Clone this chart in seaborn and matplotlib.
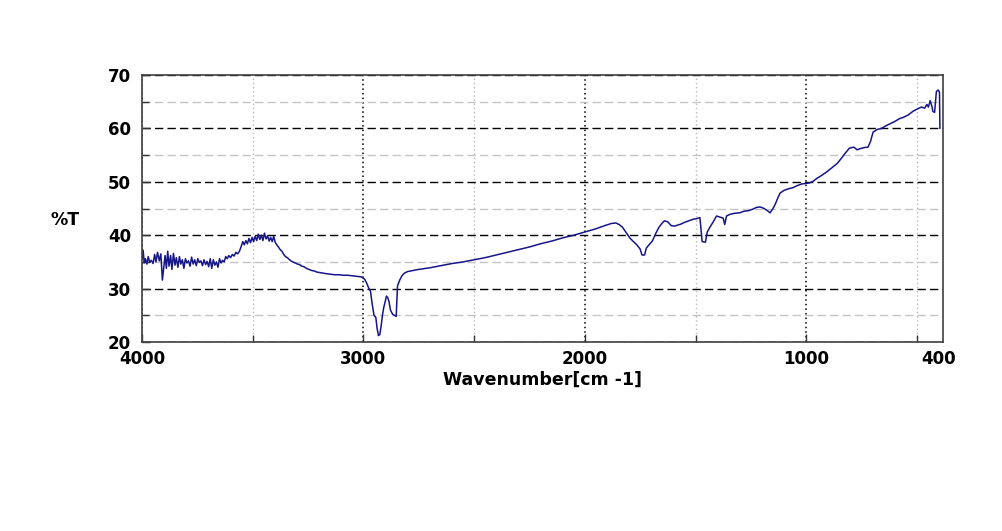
import matplotlib
matplotlib.use('Agg')
import matplotlib.pyplot as plt
import seaborn as sns
import pandas as pd
from matplotlib.ticker import FixedLocator

# FTIR spectrum (wavenumber in cm-1, %T)
wavenumber = [
    4000, 3995, 3990, 3985, 3978, 3972, 3965, 3958, 3950, 3943, 3937, 3930, 3922, 3915,
    3908, 3902, 3896, 3890, 3884, 3878, 3871, 3865, 3858, 3851, 3845, 3838, 3831, 3825,
    3818, 3811, 3804, 3797, 3790, 3783, 3776, 3769, 3762, 3755, 3748, 3741, 3734, 3727,
    3720, 3713, 3706, 3699, 3692, 3685, 3678, 3671, 3664, 3657, 3650, 3643, 3636, 3629,
    3622, 3615, 3608, 3600, 3592, 3584, 3576, 3568, 3560, 3552, 3545, 3538, 3531, 3524,
    3517, 3510, 3503, 3496, 3489, 3482, 3475, 3468, 3461, 3454, 3447, 3440, 3433, 3426,
    3419, 3412, 3405, 3398, 3391, 3384, 3376, 3368, 3360, 3352, 3344, 3336, 3328, 3318,
    3308, 3298, 3288, 3278, 3268, 3258, 3246, 3234, 3222, 3210, 3196, 3182, 3168, 3150,
    3130, 3110, 3090, 3070, 3050, 3030, 3010, 2995, 2985, 2975, 2968, 2960, 2952, 2944,
    2938, 2932, 2926, 2920, 2914, 2908, 2902, 2896, 2890, 2884, 2878, 2868, 2860, 2852,
    2846, 2836, 2826, 2815, 2800, 2775, 2750, 2700, 2650, 2600, 2550, 2500, 2450, 2400,
    2350, 2300, 2250, 2200, 2150, 2100, 2050, 2000, 1950, 1910, 1880, 1860, 1845, 1830,
    1810, 1795, 1780, 1765, 1750, 1742, 1730, 1722, 1710, 1695, 1680, 1665, 1650, 1640,
    1625, 1610, 1595, 1580, 1565, 1550, 1530, 1510, 1495, 1480, 1470, 1455, 1447, 1435,
    1420, 1405, 1390, 1375, 1368, 1360, 1345, 1325, 1300, 1280, 1260, 1240, 1225, 1208,
    1190, 1175, 1163, 1150, 1140, 1128, 1118, 1100, 1080, 1060, 1040, 1020, 1000, 985,
    969, 950, 930, 906, 885, 861, 845, 825, 805, 785, 770, 757, 740, 721,
    710, 698, 680, 660, 640, 620, 600, 580, 560, 540, 518, 500, 480, 465,
    455, 448, 440, 432, 428, 420, 412, 404, 398, 396,
]
transmittance = [
    35.5, 37.2, 34.8, 35.6, 34.6, 36.0, 34.9, 35.3, 34.7, 36.4, 35.0, 36.8, 35.2, 36.5,
    31.6, 34.0, 36.2, 33.8, 37.0, 34.2, 36.2, 33.6, 36.6, 34.4, 35.8, 34.0, 36.0, 34.6,
    35.4, 33.8, 35.6, 34.8, 35.2, 34.2, 35.9, 34.6, 35.4, 34.3, 35.6, 34.9, 35.2, 34.3,
    35.4, 34.5, 35.1, 34.1, 35.6, 33.8, 35.4, 34.4, 35.0, 34.0, 35.6, 34.8, 35.3, 35.0,
    36.0, 35.6, 36.2, 35.8, 36.4, 36.1, 36.8, 36.5, 37.0, 37.9, 38.8, 38.2, 39.0, 38.4,
    39.4, 38.6, 39.6, 38.8, 39.8, 39.0, 40.2, 39.2, 40.0, 39.0, 40.4, 39.3, 39.9, 38.9,
    39.6, 38.8, 39.8, 38.6, 38.2, 37.8, 37.3, 37.0, 36.4, 36.0, 35.8, 35.5, 35.2, 35.0,
    34.8, 34.6, 34.5, 34.2, 34.1, 33.8, 33.6, 33.4, 33.3, 33.1, 33.0, 32.9, 32.8, 32.7,
    32.6, 32.6, 32.5, 32.5, 32.4, 32.3, 32.2, 31.8, 31.0, 30.0, 29.5, 27.0, 25.0, 24.6,
    22.5, 21.2, 21.4, 23.0, 25.0, 26.5, 27.5, 28.6, 28.3, 27.5, 26.0, 25.2, 25.0, 24.8,
    30.5, 31.6, 32.4, 32.9, 33.2, 33.4, 33.6, 33.9, 34.3, 34.7, 35.0, 35.4, 35.8, 36.3,
    36.8, 37.3, 37.8, 38.4, 38.9, 39.5, 40.0, 40.6, 41.2, 41.8, 42.2, 42.3, 42.0, 41.5,
    40.3, 39.4, 38.8, 38.2, 37.4, 36.3, 36.3, 37.6, 38.2, 38.9, 40.3, 41.5, 42.3, 42.7,
    42.5, 41.8, 41.7, 41.9, 42.1, 42.4, 42.7, 43.0, 43.1, 43.3, 38.8, 38.7, 40.6, 41.5,
    42.5, 43.6, 43.4, 43.2, 42.0, 43.6, 43.9, 44.1, 44.2, 44.5, 44.6, 44.9, 45.2, 45.3,
    45.0, 44.6, 44.2, 45.0, 45.8, 47.0, 47.9, 48.4, 48.7, 48.9, 49.3, 49.6, 49.7, 49.8,
    50.1, 50.7, 51.2, 51.9, 52.6, 53.4, 54.2, 55.3, 56.3, 56.5, 56.0, 56.2, 56.4, 56.5,
    57.5, 59.3, 59.8, 60.0, 60.5, 60.9, 61.3, 61.8, 62.1, 62.5, 63.2, 63.6, 64.0, 63.8,
    64.5, 64.0, 65.2, 64.1, 63.2, 63.0, 66.9, 67.2, 66.8, 60.0,
]

x_major = [4000, 3000, 2000, 1000, 400]
x_minor = [3500, 2500, 1500, 500]
y_major = [20, 30, 40, 50, 60, 70]
y_minor = [25, 35, 45, 55, 65]

df = pd.DataFrame({'Wavenumber': wavenumber, 'T': transmittance})

sns.set_style('white')
plt.rcParams['font.family'] = ['DejaVu Sans']

fig = plt.figure(figsize=(10.03, 5.31), dpi=100)
ax = fig.add_axes([0.1416, 0.3559, 0.7986, 0.5028])

sns.lineplot(data=df, x='Wavenumber', y='T', ax=ax, color='#16168a',
             linewidth=1.1, sort=False)

ax.set_xlim(4000, 382)
ax.set_ylim(20, 70)

ax.xaxis.set_major_locator(FixedLocator(x_major))
ax.xaxis.set_minor_locator(FixedLocator(x_minor))
ax.yaxis.set_major_locator(FixedLocator(y_major))
ax.yaxis.set_minor_locator(FixedLocator(y_minor))

ax.grid(which='major', axis='x', color='black', linestyle=(0, (1, 2)), linewidth=1.1)
ax.grid(which='minor', axis='x', color='#b8b8b8', linestyle=(0, (1, 2)), linewidth=1.0)
ax.grid(which='major', axis='y', color='black', linestyle=(0, (6, 3)), linewidth=1.0)
ax.grid(which='minor', axis='y', color='#c4c4c4', linestyle=(0, (6, 3)), linewidth=1.0)
ax.set_axisbelow(True)

ax.tick_params(which='both', direction='in', colors='#333333', labelcolor='black',
               bottom=True, left=True, top=False, right=False)
ax.tick_params(which='major', length=6, width=1.0)
ax.tick_params(which='minor', length=5, width=1.0)
ax.tick_params(axis='x', pad=6, labelsize=12)
ax.tick_params(axis='y', pad=8, labelsize=12)
for lbl in ax.get_xticklabels() + ax.get_yticklabels():
    lbl.set_fontweight('bold')

# no grid line / tick at 400, only the label
t400 = ax.xaxis.get_major_ticks()[-1]
t400.gridline.set_visible(False)
t400.tick1line.set_visible(False)

for sp in ax.spines.values():
    sp.set_color('#404040')
    sp.set_linewidth(1.2)

ax.set_xlabel('Wavenumber[cm -1]', fontsize=12.5, fontweight='bold', va='center',
              color='black')
ax.xaxis.set_label_coords(0.5, -0.14)
ax.set_ylabel('%T', fontsize=12.5, fontweight='bold', rotation=0, ha='center',
              va='center', color='black')
ax.yaxis.set_label_coords(-0.096, 0.457)

fig.savefig('out.png', dpi=100, facecolor='white')
